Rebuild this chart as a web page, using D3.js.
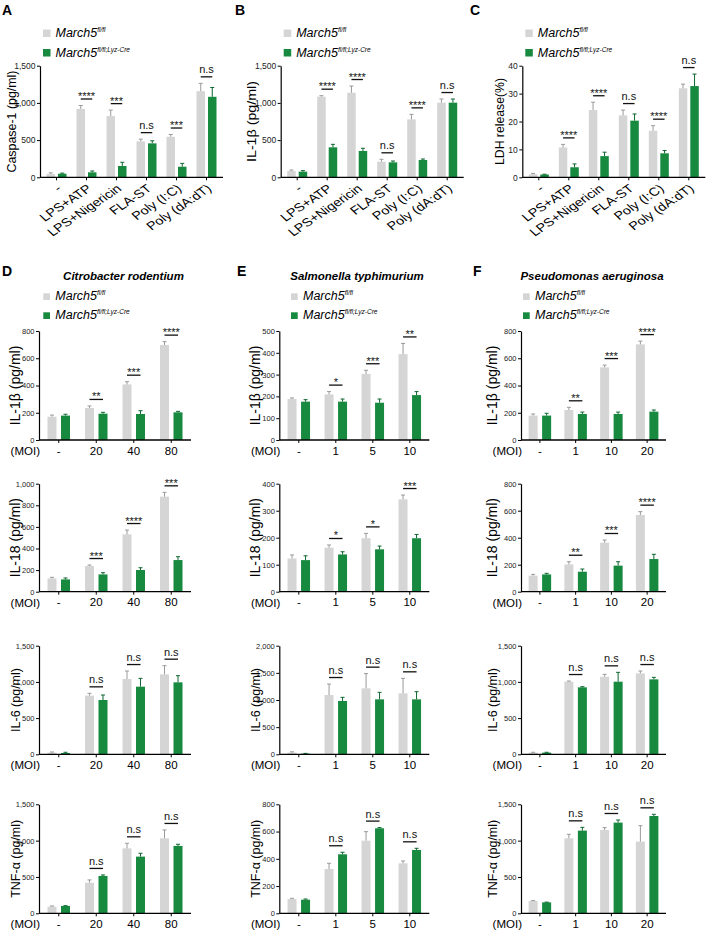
<!DOCTYPE html>
<html><head><meta charset="utf-8">
<script src="https://cdn.jsdelivr.net/npm/d3@7"></script>
<style>body{margin:0;background:#fff;} svg{display:block;}</style>
</head><body><svg id="fig" width="709" height="931"></svg>
<script>
// ---------------- DATA ----------------
const seriesNames = ["March5", "March5"];
const seriesSup = ["fl/fl", "fl/fl;Lyz-Cre"];

// Top row (A-C)
const stimuli = ["-", "LPS+ATP", "LPS+Nigericin", "FLA-ST", "Poly (I:C)", "Poly (dA:dT)"];
const casp1_ff = [45, 920, 823, 483, 545, 1158];
const casp1_ffErr = [15, 45, 80, 30, 30, 105];
const casp1_cre = [48, 67, 152, 456, 142, 1082];
const casp1_creErr = [8, 18, 50, 35, 45, 125];
const casp1_sig = ["", "****", "***", "n.s", "***", "n.s"];

const il1bTop_ff = [85, 1084, 1137, 210, 779, 1003];
const il1bTop_ffErr = [13, 13, 90, 32, 67, 49];
const il1bTop_cre = [76, 403, 354, 201, 233, 1003];
const il1bTop_creErr = [14, 40, 36, 18, 13, 49];
const il1bTop_sig = ["", "****", "****", "n.s", "****", "n.s"];

const ldh_ff = [1.1, 10.7, 24.1, 22.2, 16.7, 31.9];
const ldh_ffErr = [0.3, 1.1, 2.8, 1.9, 1.8, 1.5];
const ldh_cre = [1.0, 3.6, 7.6, 20.3, 8.6, 32.7];
const ldh_creErr = [0.1, 1.2, 1.4, 2.4, 1.0, 4.3];
const ldh_sig = ["", "****", "****", "n.s", "****", "n.s"];

const topYLabels = ["Caspase-1 (pg/ml)", "IL-1β (pg/ml)", "LDH release(%)"];
const topYMax = [1500, 1500, 40];
const topYStep = [500, 500, 10];

// Bottom rows (D-F)
const bacteria = ["Citrobacter rodentium", "Salmonella typhimurium", "Pseudomonas aeruginosa"];
const cytokineLabels = ["IL-1β (pg/ml)", "IL-18 (pg/ml)", "IL-6 (pg/ml)", "TNF-α (pg/ml)"];
const moiCitro = ["-", "20", "40", "80"];
const moiSalm = ["-", "1", "5", "10"];
const moiPseudo = ["-", "1", "10", "20"];

// Citrobacter rodentium
const citroIL1b_ff = [171, 235, 408, 697], citroIL1b_ffErr = [12, 15, 20, 25];
const citroIL1b_cre = [179, 193, 191, 203], citroIL1b_creErr = [10, 10, 24, 7];
const citroIL1b_sig = ["", "**", "***", "****"];
const citroIL18_ff = [123, 238, 531, 880], citroIL18_ffErr = [10, 9, 40, 40];
const citroIL18_cre = [114, 160, 201, 293], citroIL18_creErr = [13, 16, 21, 31];
const citroIL18_sig = ["", "***", "****", "***"];
const citroIL6_ff = [23, 810, 1040, 1104], citroIL6_ffErr = [9, 32, 110, 120];
const citroIL6_cre = [18, 750, 934, 994], citroIL6_creErr = [10, 69, 115, 92];
const citroIL6_sig = ["", "n.s", "n.s", "n.s"];
const citroTNF_ff = [92, 422, 894, 1032], citroTNF_ffErr = [9, 37, 69, 115];
const citroTNF_cre = [101, 514, 780, 927], citroTNF_creErr = [4, 14, 46, 23];
const citroTNF_sig = ["", "n.s", "n.s", "n.s"];
const citroYMax = [800, 1000, 1500, 1500], citroYStep = [200, 200, 500, 500];

// Salmonella typhimurium
const salmIL1b_ff = [188, 209, 303, 394], salmIL1b_ffErr = [5, 13, 17, 49];
const salmIL1b_cre = [176, 176, 171, 206], salmIL1b_creErr = [9, 12, 17, 16];
const salmIL1b_sig = ["", "*", "***", "**"];
const salmIL18_ff = [123, 163, 198, 342], salmIL18_ffErr = [13, 10, 18, 16];
const salmIL18_cre = [117, 138, 157, 198], salmIL18_creErr = [16, 10, 12, 14];
const salmIL18_sig = ["", "*", "*", "***"];
const salmIL6_ff = [31, 1092, 1215, 1123], salmIL6_ffErr = [15, 202, 270, 276];
const salmIL6_cre = [12, 982, 1012, 1012], salmIL6_creErr = [5, 67, 129, 141];
const salmIL6_sig = ["", "n.s", "n.s", "n.s"];
const salmTNF_ff = [105, 325, 533, 367], salmTNF_ffErr = [5, 42, 66, 17];
const salmTNF_cre = [100, 433, 624, 465], salmTNF_creErr = [5, 15, 5, 12];
const salmTNF_sig = ["", "n.s", "n.s", "n.s"];
const salmYMax = [500, 400, 2000, 800], salmYStep = [100, 100, 500, 200];

// Pseudomonas aeruginosa
const pseudoIL1b_ff = [179, 220, 533, 702], pseudoIL1b_ffErr = [12, 20, 17, 24];
const pseudoIL1b_cre = [179, 191, 191, 208], pseudoIL1b_creErr = [17, 14, 14, 12];
const pseudoIL1b_sig = ["", "**", "***", "****"];
const pseudoIL18_ff = [119, 202, 363, 568], pseudoIL18_ffErr = [9, 20, 20, 25];
const pseudoIL18_cre = [128, 148, 193, 242], pseudoIL18_creErr = [8, 20, 29, 35];
const pseudoIL18_sig = ["", "**", "***", "****"];
const pseudoIL6_ff = [23, 1003, 1072, 1118], pseudoIL6_ffErr = [5, 9, 32, 32];
const pseudoIL6_cre = [23, 925, 1003, 1035], pseudoIL6_creErr = [5, 9, 129, 28];
const pseudoIL6_sig = ["", "n.s", "n.s", "n.s"];
const pseudoTNF_ff = [170, 1032, 1147, 986], pseudoTNF_ffErr = [5, 55, 32, 220];
const pseudoTNF_cre = [151, 1138, 1248, 1339], pseudoTNF_creErr = [3, 45, 36, 23];
const pseudoTNF_sig = ["", "n.s", "n.s", "n.s"];
const pseudoYMax = [800, 800, 1500, 1500], pseudoYStep = [200, 200, 500, 500];

// ---------------- STYLE / LAYOUT ----------------
const FONT = '"Liberation Sans", Arial, Helvetica, sans-serif';
const GRAY = "#d5d5d5", GREEN = "#178a40", GRAY_ERR = "#9a9a9a", GREEN_ERR = "#0e6630";
const svg = d3.select("#fig").attr("font-family", FONT);

function drawPanel(p) {
  const g = svg.append("g");
  const y = d3.scaleLinear().domain([0, p.yMax]).range([p.yZero, p.yTop]);
  const x = d3.scaleBand().domain(p.cats).range([p.x0 + p.pad, p.x0 + p.len - p.pad]);
  const x1 = d3.scaleBand().domain(["ff", "cre"]).range([-p.half, p.half]).paddingInner(p.innerPad);
  const rows = p.cats.map((c, i) => ({c, ff: p.ff[i], ffErr: p.ffErr[i], cre: p.cre[i], creErr: p.creErr[i], sig: p.sig[i]}));
  const mid = (d, k) => x(d.c) + x.bandwidth() / 2 + x1(k) + x1.bandwidth() / 2;
  const series = [{k: "ff", fill: GRAY, err: GRAY_ERR}, {k: "cre", fill: GREEN, err: GREEN_ERR}];

  series.forEach(s => {
    g.append("g").selectAll("rect").data(rows).join("rect")
      .attr("x", d => mid(d, s.k) - x1.bandwidth() / 2)
      .attr("width", x1.bandwidth())
      .attr("y", d => y(d[s.k]))
      .attr("height", d => y(0) - y(d[s.k]))
      .attr("fill", s.fill);
    g.append("g").attr("stroke", s.err).attr("stroke-width", 1).attr("fill", "none")
      .selectAll("path").data(rows).join("path")
      .attr("d", d => {
        const m = mid(d, s.k), b = y(d[s.k]), t = y(d[s.k] + d[s.k + "Err"]);
        return `M${m},${b}V${t}M${m - 2},${t}H${m + 2}`;
      });
  });

  // y axis
  const ya = g.append("g").attr("transform", `translate(${p.x0},0)`)
    .call(d3.axisLeft(y).tickValues(d3.range(0, p.yMax + p.yStep / 2, p.yStep))
      .tickFormat(d3.format(",")).tickSize(3).tickSizeOuter(0));
  ya.attr("font-family", FONT).attr("font-size", p.tickFont);
  ya.select(".domain").attr("stroke-width", 1.2);
  ya.selectAll(".tick text").attr("x", -4.5).attr("fill", "#222");

  // x axis
  const xa = g.append("g").attr("transform", `translate(0,${p.yZero})`)
    .call(d3.axisBottom(x).tickSize(3).tickSizeOuter(0).tickFormat(p.rotate ? () => "" : (d => d)));
  xa.attr("font-family", FONT).attr("font-size", 11.5);
  xa.select(".domain").remove();
  xa.append("line").attr("x1", p.x0).attr("x2", p.x0 + p.len).attr("stroke", "#000").attr("stroke-width", 1.3);
  xa.selectAll(".tick text").attr("y", 6.5).attr("fill", "#000");

  if (p.rotate) {
    const ang = -40 * Math.PI / 180, sx = 1.25;
    const m = [sx * Math.cos(ang), Math.sin(ang), -sx * Math.sin(ang), Math.cos(ang)];
    const lab = g.append("g").selectAll("g").data(p.cats).join("g")
      .attr("transform", c => `translate(${x(c) + x.bandwidth() / 2 + 6},${p.yZero + 12.5})`);
    lab.append("text")
      .attr("transform", `matrix(${m[0]},${m[1]},${m[2]},${m[3]},0,0)`)
      .attr("text-anchor", "end").attr("font-size", 11.5).text(c => c);
  } else {
    g.append("text").attr("x", p.x0 + 1).attr("y", p.yZero + 15)
      .attr("text-anchor", "end").attr("font-size", 11.5).text("(MOI)");
  }

  // y label
  const yl = g.append("text")
    .attr("transform", `translate(${p.x0 - p.yLabelOff},${(p.yTop + p.yZero) / 2}) rotate(-90)`)
    .attr("text-anchor", "middle").attr("font-size", p.yLabelFont).text(p.yLabel);
  if (p.yLabelLen) yl.attr("textLength", p.yLabelLen).attr("lengthAdjust", "spacingAndGlyphs");

  // significance
  rows.filter(d => d.sig).forEach(d => {
    const top = Math.min(y(d.ff + d.ffErr), y(d.cre + d.creErr));
    const ly = top - 6.5;
    const xa1 = mid(d, "ff"), xb = mid(d, "cre");
    g.append("line").attr("x1", xa1).attr("x2", xb).attr("y1", ly).attr("y2", ly)
      .attr("stroke", "#111").attr("stroke-width", 1.3);
    g.append("text").attr("x", (xa1 + xb) / 2).attr("y", d.sig === "n.s" ? ly - 3.5 : ly + 1)
      .attr("text-anchor", "middle").attr("font-size", 11).attr("fill", "#111").text(d.sig);
  });
}

function drawLegend(x, y1, y2, size, textOff, fontSize) {
  const lg = svg.append("g");
  const items = [{fill: GRAY, y: y1}, {fill: GREEN, y: y2}];
  items.forEach((it, i) => {
    lg.append("rect").attr("x", x).attr("y", it.y - size).attr("width", size).attr("height", size).attr("fill", it.fill);
    const t = lg.append("text").attr("x", x + textOff).attr("y", it.y).attr("font-size", fontSize).attr("font-style", "italic");
    t.append("tspan").text(seriesNames[i]);
    t.append("tspan").attr("dy", -5).attr("font-size", 6.5).text(seriesSup[i]);
  });
}

function letter(t, x, y) {
  svg.append("text").attr("x", x).attr("y", y).attr("font-size", 14).attr("font-weight", "bold").text(t);
}

// ---------- top row ----------
const topX0 = [40, 280.7, 522.3];
const topLabelOff = [24.5, 25, 18.5];
const topLabelLen = [102, 81, 87];
const topSets = [
  [casp1_ff, casp1_ffErr, casp1_cre, casp1_creErr, casp1_sig],
  [il1bTop_ff, il1bTop_ffErr, il1bTop_cre, il1bTop_creErr, il1bTop_sig],
  [ldh_ff, ldh_ffErr, ldh_cre, ldh_creErr, ldh_sig]
];
["A", "B", "C"].forEach((L, i) => {
  letter(L, [2, 235, 470][i], 15);
  drawLegend(topX0[i] + 3, 37, 56.5, 7.5, 12.5, 12.5);
  const s = topSets[i];
  drawPanel({
    x0: topX0[i], len: 183, pad: 1.5, yTop: 65.7, yZero: 177.3, cats: stimuli,
    ff: s[0], ffErr: s[1], cre: s[2], creErr: s[3], sig: s[4],
    yMax: topYMax[i], yStep: topYStep[i], half: 10, innerPad: 0.261, tickFont: 8.5,
    yLabel: topYLabels[i], yLabelFont: 13, yLabelLen: topLabelLen[i], yLabelOff: topLabelOff[i], rotate: true
  });
});

// ---------- bottom rows ----------
const botX0 = [39, 279.3, 521];
const botLen = [152, 150, 145];
const botLabelOff = [19.5, 19.5, 24];
const legendX = [43.3, 291, 523];
const titleX = [123.5, 357, 592];
const rowTop = [331, 483.7, 645.7, 804.3];
const rowZero = [440, 591.7, 754.3, 913.3];
const botCats = [moiCitro, moiSalm, moiPseudo];
const botYMax = [citroYMax, salmYMax, pseudoYMax];
const botYStep = [citroYStep, salmYStep, pseudoYStep];
const botSets = [
  [[citroIL1b_ff, citroIL1b_ffErr, citroIL1b_cre, citroIL1b_creErr, citroIL1b_sig],
   [citroIL18_ff, citroIL18_ffErr, citroIL18_cre, citroIL18_creErr, citroIL18_sig],
   [citroIL6_ff, citroIL6_ffErr, citroIL6_cre, citroIL6_creErr, citroIL6_sig],
   [citroTNF_ff, citroTNF_ffErr, citroTNF_cre, citroTNF_creErr, citroTNF_sig]],
  [[salmIL1b_ff, salmIL1b_ffErr, salmIL1b_cre, salmIL1b_creErr, salmIL1b_sig],
   [salmIL18_ff, salmIL18_ffErr, salmIL18_cre, salmIL18_creErr, salmIL18_sig],
   [salmIL6_ff, salmIL6_ffErr, salmIL6_cre, salmIL6_creErr, salmIL6_sig],
   [salmTNF_ff, salmTNF_ffErr, salmTNF_cre, salmTNF_creErr, salmTNF_sig]],
  [[pseudoIL1b_ff, pseudoIL1b_ffErr, pseudoIL1b_cre, pseudoIL1b_creErr, pseudoIL1b_sig],
   [pseudoIL18_ff, pseudoIL18_ffErr, pseudoIL18_cre, pseudoIL18_creErr, pseudoIL18_sig],
   [pseudoIL6_ff, pseudoIL6_ffErr, pseudoIL6_cre, pseudoIL6_creErr, pseudoIL6_sig],
   [pseudoTNF_ff, pseudoTNF_ffErr, pseudoTNF_cre, pseudoTNF_creErr, pseudoTNF_sig]]
];
["D", "E", "F"].forEach((L, c) => {
  letter(L, [2, 237, 473][c], 276);
  svg.append("text").attr("x", titleX[c]).attr("y", 280).attr("text-anchor", "middle")
    .attr("font-size", 11.5).attr("font-weight", "bold").attr("font-style", "italic").text(bacteria[c]);
  drawLegend(legendX[c], 300, 319, 6.7, 12, 12.5);
  for (let r = 0; r < 4; r++) {
    const s = botSets[c][r];
    drawPanel({
      x0: botX0[c], len: botLen[c], pad: 1, yTop: rowTop[r], yZero: rowZero[r], cats: botCats[c],
      ff: s[0], ffErr: s[1], cre: s[2], creErr: s[3], sig: s[4],
      yMax: botYMax[c][r], yStep: botYStep[c][r], half: 11.25, innerPad: 0.333, tickFont: 7.5,
      yLabel: cytokineLabels[r], yLabelFont: r < 2 ? 14 : 12.5, yLabelLen: null,
      yLabelOff: botLabelOff[c], rotate: false
    });
  }
});
</script></body></html>
